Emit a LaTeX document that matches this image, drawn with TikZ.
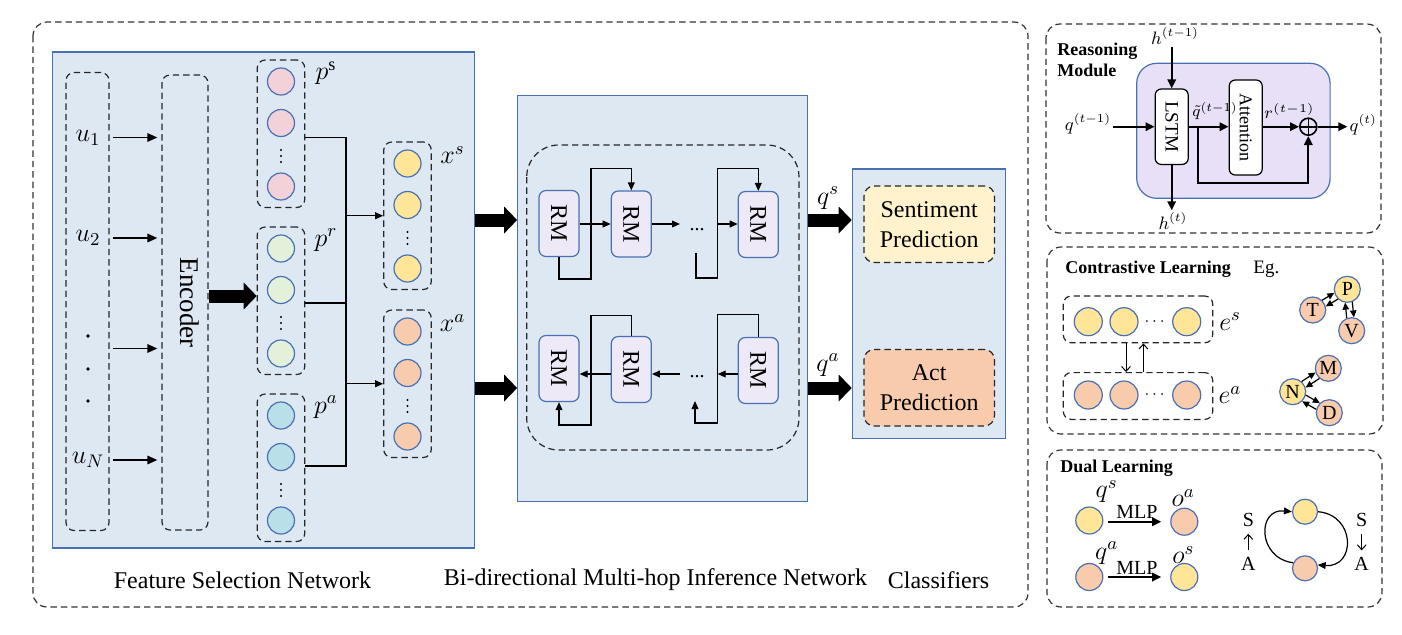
\RequirePackage{fix-cm}
\documentclass[tikz,border=0pt]{standalone}
\usepackage{fontspec}
\setmainfont{Liberation Serif}
\usepackage{amsmath}
\usetikzlibrary{calc, positioning}
\usetikzlibrary{arrows.meta}

\definecolor{panelblue}{HTML}{DEE8F3}
\definecolor{edgeblue}{HTML}{4A70B4}
\definecolor{pinkc}{HTML}{F2D1D9}
\definecolor{greenc}{HTML}{E3F0DA}
\definecolor{cyanc}{HTML}{B9E0E9}
\definecolor{yellowc}{HTML}{FFE597}
\definecolor{orangec}{HTML}{F8CBAD}
\definecolor{rmfill}{HTML}{EEE9F7}
\definecolor{modfill}{HTML}{E7E0F6}
\definecolor{creamc}{HTML}{FFF2CC}

\tikzset{
  frame/.style={draw=black!80, line width=0.6pt, dash pattern=on 3.2pt off 2pt, rounded corners=7pt},
  panel/.style={draw=edgeblue, fill=panelblue, line width=0.6pt, inner sep=0pt},
  dashbox/.style={draw=black!85, line width=0.6pt, dash pattern=on 3.2pt off 2pt, rounded corners=4pt, inner sep=0pt},
  unit/.style={circle, draw=edgeblue, line width=0.6pt, minimum size=13.5pt, inner sep=0pt},
  rmbox/.style={draw=edgeblue, fill=rmfill, line width=0.6pt, rounded corners=3.5pt,
    minimum width=20pt, minimum height=33pt, inner sep=0pt,
    label={[rotate=-90, font=\fontsize{12}{12}\selectfont]center:RM}},
  cell/.style={draw, fill=white, line width=0.6pt, rounded corners=3pt, minimum width=16.5pt, inner sep=0pt},
  mlab/.style={font=\fontsize{13}{13}\selectfont, inner sep=1pt},
  slab/.style={font=\fontsize{9}{9}\selectfont, inner sep=1pt},
  txt/.style={font=\fontsize{12}{15}\selectfont},
  head/.style={font=\bfseries\fontsize{9}{10.7}\selectfont, inner sep=0pt},
  arr/.style={line width=0.6pt, -{Triangle[length=4pt, width=3.4pt]}},
  inarr/.style={line width=0.9pt, -{Triangle[length=5pt, width=4.2pt]}},
  thkarr/.style={line width=1pt, -{Triangle[length=4.5pt, width=4.2pt]}},
  barb/.style={line width=0.5pt, -{Straight Barb[length=2.4pt, width=4.4pt]}},
  bigarr/.style={line width=6.5pt, -{Triangle[length=6.5pt, width=13.5pt, line width=0pt]}},
  gnode/.style={circle, draw=edgeblue, line width=0.6pt, minimum size=13pt, inner sep=0pt, font=\fontsize{10}{10}\selectfont},
  garr/.style={line width=0.6pt, -{Triangle[length=3.5pt, width=3.2pt]}, shorten <=6.5pt, shorten >=6.5pt}
}

\begin{document}
\begin{tikzpicture}[x=0.5pt, y=-0.5pt]
\useasboundingbox (0,0) rectangle (1402,634);
% main frame
\draw[frame] (33,22) rectangle (1028,607);
\coordinate (rowS) at (0,220);
\coordinate (rowA) at (0,388);
% feature selection network
\node[panel, minimum width=210.7pt, minimum height=248pt] (fsn) at (263.4,300) {};
\node[dashbox, minimum width=21.5pt, minimum height=229pt] (ubox) at (87.5,301.5) {};
\node[dashbox, minimum width=23pt, minimum height=227.5pt,
  label={[rotate=-90, font=\fontsize{13.5}{13.5}\selectfont, yshift=2.5pt]center:Encoder}] (enc) at (185,302.5) {};
\node[mlab] (u1) at (88,137.5) {$u_1$};
\node[mlab] (u2) at (88,238) {$u_2$};
\node[mlab] (uN) at (88,460) {$u_N$};
\coordinate (u3) at (88,348.5);
\foreach \y in {336,369,401} \fill (88,\y) circle (0.9pt);
\foreach \u in {u1,u2,u3,uN}
  \draw[inarr, shorten <=1.5pt, shorten >=2pt] (ubox.east |- \u) -- (enc.west |- \u);
\foreach \nm/\cx/\ty/\col/\lab in {ps/281/60/pinkc/p^{\mathrm{s}}, pr/281/227/greenc/p^r, pa/281/394/cyanc/p^a,
    xs/407.5/142/yellowc/x^s, xa/407.5/310/orangec/x^a}{
  \node[dashbox, minimum width=23.75pt, minimum height=73.75pt] (\nm) at (\cx,{\ty+73.75}) {};
  \node[unit, fill=\col] (\nm1) at (\cx,{\ty+21.5}) {};
  \node[unit, fill=\col] (\nm2) at (\cx,{\ty+63}) {};
  \node[unit, fill=\col] (\nm3) at (\cx,{\ty+126.5}) {};
  \foreach \d in {-6,0,6} \fill (\cx,{\ty+96+\d}) circle (0.6pt);
  \node[mlab] (lab\nm) at ({\cx+45},{\ty+13}) {$\lab$};
}
\coordinate (jps) at (346,137.7);
\coordinate (jpr) at (346,303);
\coordinate (jpa) at (346,466);
\draw[line width=0.6pt] (ps.east |- jps) -- (jps) -- (jpa) -- (pa.east |- jpa);
\draw[line width=0.6pt] (pr.east |- jpr) -- (jpr);
\draw[arr] (jps |- xs) -- (xs.west);
\draw[arr] (jps |- xa) -- (xa.west);
\coordinate (encrow) at (0,296);
\draw[bigarr] (enc.east |- encrow) -- (pr.west |- encrow);
% bi-directional multi-hop inference network
\node[panel, minimum width=144.7pt, minimum height=203pt] (bimn) at (662.4,298.7) {};
\draw[draw=black!85, line width=0.6pt, dash pattern=on 3.2pt off 2pt, rounded corners=16pt] (526.7,145) rectangle (799,450);
\node[rmbox] (rm1) at (559,223.5) {};
\node[rmbox] (rm2) at (631.3,224) {};
\node[rmbox] (rm3) at (758.3,224.5) {};
\node[rmbox] (rm4) at (559,368.5) {};
\node[rmbox] (rm5) at (631.3,369.5) {};
\node[rmbox] (rm6) at (758.3,370.5) {};
\node[font=\fontsize{10}{10}\selectfont] (tdots) at (697,230) {...};
\node[font=\fontsize{10}{10}\selectfont] (bdots) at (697,377) {...};
\coordinate (tgap) at (680,224);
\coordinate (tjoin) at (717.7,224);
\coordinate (tfree) at (696,253);
\draw[arr] (rm1.east |- tgap) -- (rm2.west |- tgap);
\draw[arr] (rm2.east |- tgap) -- (tgap);
\draw[arr] (tjoin) -- (rm3.west |- tjoin);
\draw[arr] (rm1.south) |- (591,279) |- (631.3,168.7) -- (rm2.north);
\draw[arr] (tfree) |- (717.7,278) |- (758.3,168.5) -- (rm3.north);
\coordinate (bgap) at (680,374);
\coordinate (bjoin) at (717.7,374);
\coordinate (bfree) at (695,401);
\draw[arr] (rm5.west |- bgap) -- (rm4.east |- bgap);
\draw[arr] (bgap) -- (rm5.east |- bgap);
\draw[arr] (rm6.west |- bjoin) -- (bjoin);
\draw[arr] (rm5.north) |- (591,315.7) |- (559,425) -- (rm4.south);
\draw[arr] (rm6.north) |- (717.7,314.5) |- (695,423) -- (bfree);
\draw[bigarr] (fsn.east |- rowS) -- (bimn.west |- rowS);
\draw[bigarr] (fsn.east |- rowA) -- (bimn.west |- rowA);
% classifiers
\node[panel, minimum width=76.7pt, minimum height=134.7pt] (cls) at (929,303.7) {};
\node[dashbox, fill=creamc, rounded corners=5pt, minimum width=65.2pt, minimum height=38.2pt, txt, align=center]
  (sent) at (929.2,224.2) {Sentiment\\Prediction};
\node[dashbox, fill=orangec, rounded corners=5pt, minimum width=65.2pt, minimum height=38.2pt, txt, align=center]
  (act) at (929.2,387.7) {Act\\Prediction};
\node[mlab] (qs) at (828,198) {$q^s$};
\node[mlab] (qa) at (828,365) {$q^a$};
\draw[bigarr] (bimn.east |- rowS) -- (cls.west |- rowS);
\draw[bigarr] (bimn.east |- rowA) -- (cls.west |- rowA);
% captions
\node[txt] (fsnlab) at (242.5,580) {Feature Selection Network};
\node[txt] (bimnlab) at (655.5,580) {Bi-directional Multi-hop Inference Network};
\node[txt] (clslab) at (938.5,580) {Classifiers};
% reasoning module
\draw[frame] (1046,24) rectangle (1381,233);
\node[head, anchor=west, align=left] (rmhead) at (1057,60) {Reasoning\\Module};
\node[draw=edgeblue, fill=modfill, line width=0.6pt, rounded corners=10pt,
  minimum width=96.7pt, minimum height=67.5pt] (rmod) at (1233.4,130.8) {};
\node[cell, minimum height=37.7pt, label={[rotate=-90, font=\fontsize{9.5}{9.5}\selectfont]center:LSTM}] (lstm) at (1171.7,126.7) {};
\node[cell, minimum height=47.5pt, label={[rotate=-90, font=\fontsize{9}{9}\selectfont]center:Attention}] (attn) at (1245.7,127.5) {};
\node[circle, draw, line width=0.8pt, minimum size=8.5pt, inner sep=0pt,
  path picture={\draw[line width=0.8pt] (path picture bounding box.north) -- (path picture bounding box.south)
    (path picture bounding box.west) -- (path picture bounding box.east);}] (oplus) at (1308.3,126.7) {};
\node[slab] (hprev) at (1175,36) {$h^{(t-1)}$};
\node[slab] (hnext) at (1173,221) {$h^{(t)}$};
\node[slab] (qprev) at (1088,124) {$q^{(t-1)}$};
\node[slab, font=\fontsize{8}{8}\selectfont, anchor=west, inner sep=0pt] (qtil) at (1192,111) {$\tilde{q}^{(t-1)}$};
\node[slab, font=\fontsize{8.5}{8.5}\selectfont, anchor=west, inner sep=0pt] (rprev) at (1264,111) {$r^{(t-1)}$};
\node[slab] (qnext) at (1363.3,125) {$q^{(t)}$};
\coordinate (qbr) at (1198.3,126.7);
\draw[thkarr] (lstm.north |- hprev.south) -- (lstm.north);
\draw[thkarr] (lstm.south) -- (lstm.south |- hnext.north);
\draw[thkarr] (qprev.east |- lstm) -- (lstm.west);
\draw[thkarr] (lstm.east) -- (attn.west |- lstm.east);
\draw[thkarr] (attn.east |- oplus) -- (oplus.west);
\draw[thkarr] (oplus.east) -- (qnext.west |- oplus);
\draw[thkarr] (qbr) |- (1308.3,183.3) -- (oplus.south);
% contrastive learning
\draw[frame] (1047,247) rectangle (1383,434);
\node[head, anchor=west] (clhead) at (1065,269.3) {Contrastive Learning};
\node[font=\fontsize{9.5}{9.5}\selectfont, anchor=west, inner sep=0pt] (eg) at (1253,269.3) {Eg.};
\node[dashbox, minimum width=74.7pt, minimum height=23.4pt] (es) at (1138,319.4) {};
\node[dashbox, minimum width=74.7pt, minimum height=23.4pt] (ea) at (1138,396) {};
\foreach \r/\y/\col in {es/321.7/yellowc, ea/395/orangec}{
  \node[unit, minimum size=14pt, fill=\col] (\r1) at (1088.3,\y) {};
  \node[unit, minimum size=14pt, fill=\col] (\r2) at (1124,\y) {};
  \node[font=\fontsize{8}{8}\selectfont] (dots\r) at (1156,\y) {$\cdots$};
  \node[unit, minimum size=14pt, fill=\col] (\r3) at (1186.7,\y) {};
}
\node[mlab] (eslab) at (1230,321.7) {$e^s$};
\node[mlab] (ealab) at (1230,395) {$e^a$};
\draw[barb] ([xshift=-6pt]es.south) -- ([xshift=-6pt]ea.north);
\draw[barb] ([xshift=2.7pt]ea.north) -- ([xshift=2.7pt]es.south);
\node[gnode, fill=yellowc] (P) at (1347.3,289.3) {P};
\node[gnode, fill=orangec] (T) at (1312.7,310) {T};
\node[gnode, fill=orangec] (V) at (1351.7,330.7) {V};
\node[gnode, fill=yellowc] (N) at (1292.7,391.7) {N};
\node[gnode, fill=orangec] (M) at (1328.3,368.3) {M};
\node[gnode, fill=orangec] (D) at (1329.3,412.7) {D};
\foreach \a/\b in {T/P, P/T, P/V, V/P, N/M, M/N, N/D, D/N}
  \draw[garr] ($(\a)!1.8pt!90:(\b)$) -- ($(\b)!1.8pt!-90:(\a)$);
% dual learning
\draw[frame] (1047,450) rectangle (1382,607);
\node[head, anchor=west] (dlhead) at (1060,468.3) {Dual Learning};
\node[unit, fill=yellowc] (dqs) at (1089.3,520.5) {};
\node[unit, fill=orangec] (doa) at (1184.3,521.7) {};
\node[unit, fill=orangec] (dqa) at (1089.3,577) {};
\node[unit, fill=yellowc] (dos) at (1184.3,577) {};
\node[mlab] (dqslab) at (1106.7,491.7) {$q^s$};
\node[mlab] (doalab) at (1183.3,498.3) {$o^a$};
\node[mlab] (dqalab) at (1106.7,553.3) {$q^a$};
\node[mlab] (doslab) at (1183.3,555) {$o^s$};
\draw[thkarr, shorten <=2.5pt, shorten >=4.5pt] (dqs.east |- doa) -- (doa.west)
  node[midway, above, inner sep=1pt, font=\fontsize{10}{10}\selectfont] (mlp1) {MLP};
\draw[thkarr, shorten <=2.5pt, shorten >=4.5pt] (dqa.east) -- (dos.west)
  node[midway, above, inner sep=1pt, font=\fontsize{10}{10}\selectfont] (mlp2) {MLP};
\node[unit, minimum size=12.5pt, fill=yellowc] (cy) at (1305,511.7) {};
\node[unit, minimum size=12.5pt, fill=orangec] (co) at (1305,568.3) {};
\draw[arr] (co.155) .. controls (1257,558) and (1257,508) .. (cy.west);
\draw[arr] (cy.east) .. controls (1356,515) and (1356,568) .. (co.15);
\node[font=\fontsize{10}{10}\selectfont] (s1) at (1248.3,520) {S};
\node[font=\fontsize{10}{10}\selectfont] (a1) at (1248.3,564) {A};
\draw[barb] (a1.north) -- (s1.south);
\node[font=\fontsize{10}{10}\selectfont] (s2) at (1361.7,520) {S};
\node[font=\fontsize{10}{10}\selectfont] (a2) at (1361.7,564) {A};
\draw[barb] (s2.south) -- (a2.north);
\end{tikzpicture}
\end{document}
